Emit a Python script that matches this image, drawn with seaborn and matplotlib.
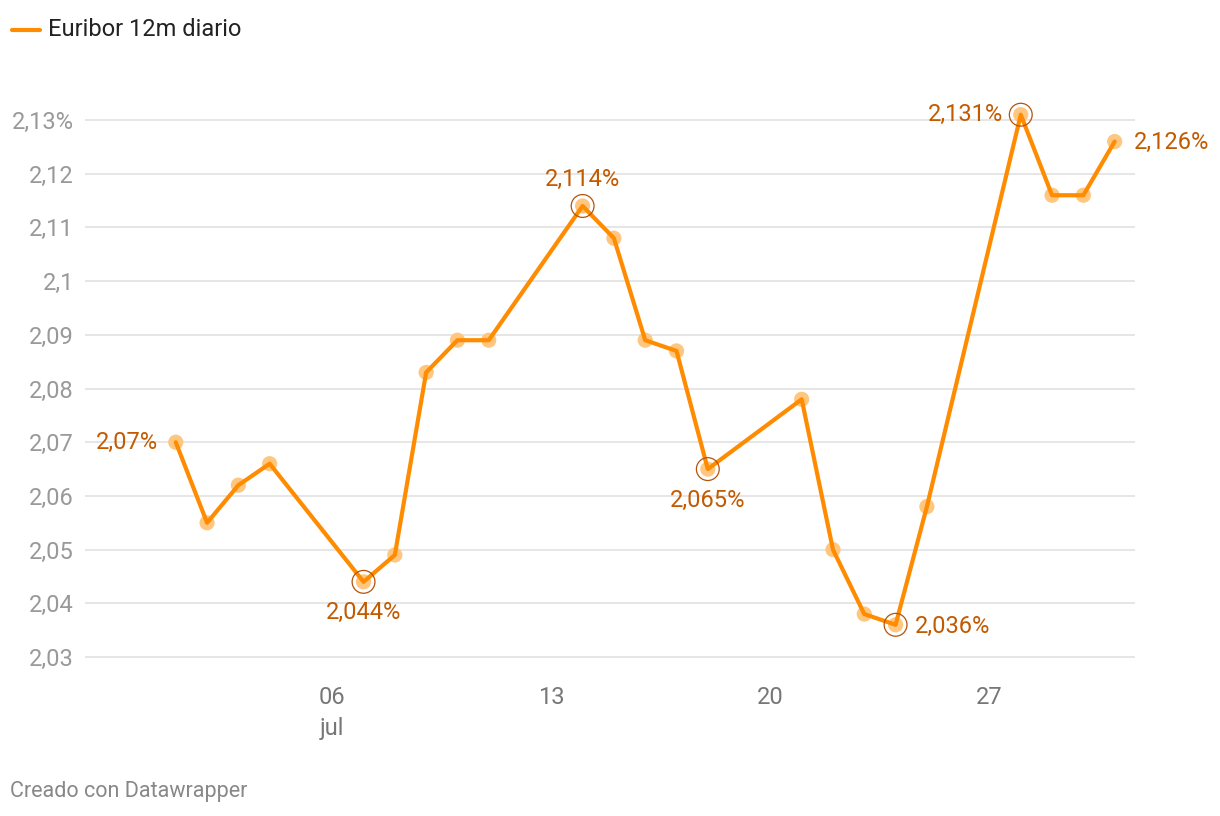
import pandas as pd
import seaborn as sns
import matplotlib.pyplot as plt
import matplotlib.dates as mdates

# Euribor 12 meses, valores diarios julio
dias = [1, 2, 3, 4, 7, 8, 9, 10, 11, 14, 15, 16, 17, 18, 21, 22, 23, 24, 25, 28, 29, 30, 31]
valores = [2.070, 2.055, 2.062, 2.066, 2.044, 2.049, 2.083, 2.089, 2.089, 2.114, 2.108, 2.089,
           2.087, 2.065, 2.078, 2.050, 2.038, 2.036, 2.058, 2.131, 2.116, 2.116, 2.126]
y_ticks = [2.03, 2.04, 2.05, 2.06, 2.07, 2.08, 2.09, 2.10, 2.11, 2.12, 2.13]
y_labels = ['2,03', '2,04', '2,05', '2,06', '2,07', '2,08', '2,09', '2,1', '2,11', '2,12', '2,13%']
x_ticks = [6, 13, 20, 27]
x_labels = ['06\njul', '13', '20', '27']
# dia, texto, posicion
etiquetas = [(1, '2,07%', 'left'), (7, '2,044%', 'below'), (14, '2,114%', 'above'),
             (18, '2,065%', 'below'), (24, '2,036%', 'right'), (28, '2,131%', 'left'),
             (31, '2,126%', 'right')]
anillos = [7, 14, 18, 24, 28]

df = pd.DataFrame({'fecha': pd.to_datetime([f'2025-07-{d:02d}' for d in dias]), 'valor': valores})
lookup = dict(zip(dias, valores))

def fecha(d):
    return pd.Timestamp(f'2025-07-{d:02d}')

sns.set_style('white')
plt.rcParams['font.family'] = ['Roboto', 'DejaVu Sans']

naranja = '#ff8c00'
claro = '#ffc680'
texto_naranja = '#c25a00'
fs = 17

fig = plt.figure(figsize=(12.2, 8.16), dpi=100)
ax = fig.add_axes([85 / 1220, 141 / 816, 1050 / 1220, 585 / 816])

sns.scatterplot(data=df, x='fecha', y='valor', color=claro, s=120, edgecolor='none', ax=ax, zorder=3)
sns.lineplot(data=df, x='fecha', y='valor', color=naranja, linewidth=3, ax=ax, zorder=4)

ring = df[df['fecha'].dt.day.isin(anillos)]
ax.scatter(ring['fecha'], ring['valor'], s=270, facecolor='none', edgecolor='#b5530a', linewidth=0.9, zorder=5)

for d, txt, pos in etiquetas:
    x, y = fecha(d), lookup[d]
    if pos == 'left':
        ax.annotate(txt, (x, y), xytext=(-13, 0), textcoords='offset points', ha='right', va='center',
                    fontsize=fs, color=texto_naranja)
    elif pos == 'right':
        ax.annotate(txt, (x, y), xytext=(14, -1), textcoords='offset points', ha='left', va='center',
                    fontsize=fs, color=texto_naranja)
    elif pos == 'above':
        ax.annotate(txt, (x, y), xytext=(0, 11), textcoords='offset points', ha='center', va='bottom',
                    fontsize=fs, color=texto_naranja)
    else:
        ax.annotate(txt, (x, y), xytext=(0, -14), textcoords='offset points', ha='center', va='top',
                    fontsize=fs, color=texto_naranja)

ax.set_ylim(2.02665, 2.1356)
ax.set_xlim(mdates.date2num(fecha(1)) - 2.9, mdates.date2num(fecha(31)) + 0.65)
ax.set_yticks(y_ticks)
ax.set_yticklabels(y_labels, fontsize=fs, color='#999999')
ax.set_xticks([fecha(d) for d in x_ticks])
ax.set_xticklabels(x_labels, fontsize=fs, color='#777777', linespacing=1.45)
ax.tick_params(axis='both', length=0)
ax.tick_params(axis='y', pad=8)
ax.tick_params(axis='x', pad=8)
ax.grid(axis='y', color='#e2e2e2', linewidth=1.2)
ax.grid(axis='x', visible=False)
ax.set_xlabel('')
ax.set_ylabel('')
sns.despine(ax=ax, left=True, bottom=True)

# leyenda y pie
fig.add_artist(plt.Line2D([12 / 1220, 40 / 1220], [1 - 30 / 816, 1 - 30 / 816], color=naranja, linewidth=3,
                          solid_capstyle='round'))
fig.text(48 / 1220, 1 - 30 / 816, 'Euribor 12m diario', fontsize=fs, color='#222222', va='center')
fig.text(10 / 1220, 1 - 792 / 816, 'Creado con Datawrapper', fontsize=15.5, color='#888888', va='center')

fig.savefig('out.png', dpi=100)
